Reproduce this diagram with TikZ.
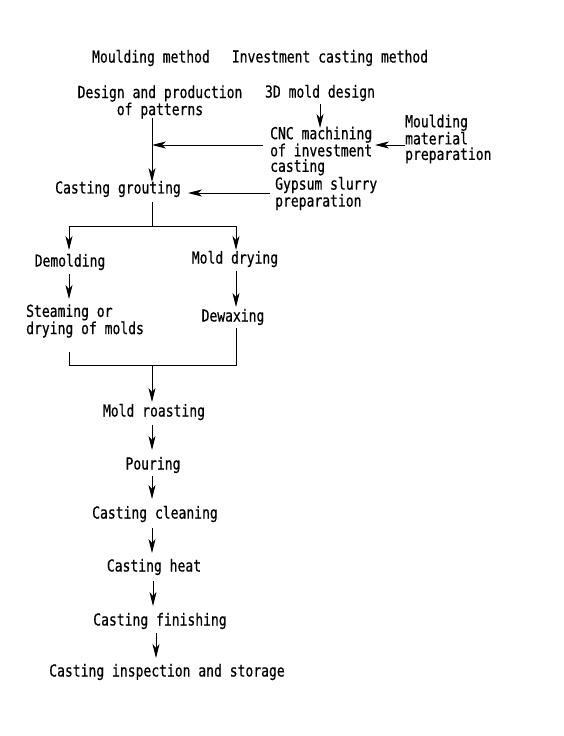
\documentclass[tikz,border=0pt]{standalone}
\usepackage{fontspec}
\newfontfamily\hf[FakeStretch=0.79,FakeBold=0.6]{DejaVu Sans Mono}
\usetikzlibrary{arrows.meta}
\begin{document}
\begin{tikzpicture}[x=1pt,y=-1pt,
  every node/.style={font=\hf\fontsize{16.5}{15.5}\selectfont, inner sep=0pt},
  arr/.style={-{Stealth[length=14pt,width=7pt,inset=4pt]}, line width=0.9pt},
  ln/.style={line width=0.9pt}]
\useasboundingbox (0,0) rectangle (564,736);
\node (mm) at (151,58) {Moulding method};
\node (icm) at (330,58) {Investment casting method};
\node[align=center] (dp) at (160,102) {Design and production\\of patterns};
\node (d3) at (320,93) {3D mold design};
\node[align=left, anchor=west] (cnc) at (270,151) {CNC machining\\of investment\\casting};
\node[align=left, anchor=west] (mat) at (405,139) {Moulding\\material\\preparation};
\node (cg) at (118,189) {Casting grouting};
\node[align=left, anchor=west] (gyp) at (275,193.5) {Gypsum slurry\\preparation};
\node (dem) at (70,262) {Demolding};
\node (md) at (235,259) {Mold drying};
\node[align=left, anchor=west] (st) at (26,321) {Steaming or\\drying of molds};
\node (dw) at (233,317) {Dewaxing};
\node (mr) at (154,412) {Mold roasting};
\node (po) at (153,465) {Pouring};
\node (cc) at (155,514) {Casting cleaning};
\node (ch) at (154,567) {Casting heat};
\node (cf) at (160,621) {Casting finishing};
\node (ci) at (167,672) {Casting inspection and storage};
% coordinates
\coordinate (a1) at (152,118);
\coordinate (a2) at (152,182);
\coordinate (a3) at (152,145);
\coordinate (c1) at (320,104);
\coordinate (c2) at (320,128);
\coordinate (m1) at (405,145);
\coordinate (m2) at (375,145);
\coordinate (n1) at (263,145);
\coordinate (g1) at (270,193);
\coordinate (g2) at (188,193);
\coordinate (b0) at (152,202);
\coordinate (b1) at (152,226);
\coordinate (bl) at (69,226);
\coordinate (br) at (236,226);
\coordinate (dl) at (69,250);
\coordinate (dr) at (236,250);
\coordinate (e1) at (69,274);
\coordinate (e2) at (69,299);
\coordinate (f1) at (236,271);
\coordinate (f2) at (236,307);
\coordinate (h1) at (69,352);
\coordinate (h2) at (236,328);
\coordinate (jl) at (69,365);
\coordinate (jr) at (236,365);
\coordinate (j0) at (152,365);
\coordinate (j1) at (152,402);
\coordinate (k1) at (152,425);
\coordinate (k2) at (152,450);
\coordinate (p1) at (152,476);
\coordinate (p2) at (152,499);
\coordinate (q1) at (152,528);
\coordinate (q2) at (152,553);
\coordinate (r1) at (153,581);
\coordinate (r2) at (153,606);
\coordinate (s1) at (156,633);
\coordinate (s2) at (156,658);
% connectors
\draw[arr] (c1) -- (c2);
\draw[arr] (m1) -- (m2);
\draw[arr] (n1) -- (a3);
\draw[arr] (a1) -- (a2);
\draw[arr] (g1) -- (g2);
\draw[ln] (b0) -- (b1);
\draw[ln] (bl) -- (br);
\draw[arr] (bl) -- (dl);
\draw[arr] (br) -- (dr);
\draw[arr] (e1) -- (e2);
\draw[arr] (f1) -- (f2);
\draw[ln] (h1) -- (jl) -- (jr) -- (h2);
\draw[arr] (j0) -- (j1);
\draw[arr] (k1) -- (k2);
\draw[arr] (p1) -- (p2);
\draw[arr] (q1) -- (q2);
\draw[arr] (r1) -- (r2);
\draw[arr] (s1) -- (s2);
\end{tikzpicture}
\end{document}
